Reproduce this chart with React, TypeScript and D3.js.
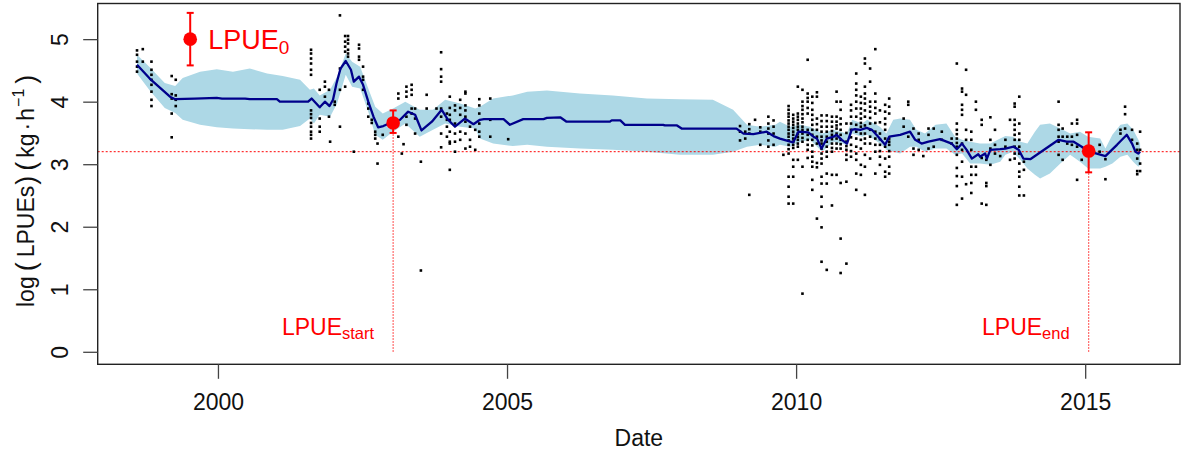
import { useEffect, useRef } from 'react';
import * as d3 from 'd3';

// smoothed fit and its confidence band
const bandYears = [1998.60, 1998.82, 1999.08, 1999.26, 1999.39, 1999.69, 1999.98, 2000.26, 2000.55, 2000.85, 2001.12, 2001.42, 2001.59, 2001.66, 2001.76, 2001.94, 2002.06, 2002.21, 2002.32, 2002.46, 2002.60, 2002.72, 2002.85, 2003.03, 2003.24, 2003.49, 2003.72, 2003.93, 2004.19, 2004.45, 2004.53, 2004.76, 2005.10, 2005.35, 2005.69, 2006.26, 2006.83, 2007.42, 2007.99, 2008.56, 2008.91, 2009.15, 2009.38, 2009.64, 2009.72, 2009.90, 2010.07, 2010.24, 2010.45, 2010.64, 2010.88, 2010.97, 2011.14, 2011.23, 2011.45, 2011.56, 2011.68, 2011.80, 2011.97, 2012.08, 2012.23, 2012.41, 2012.60, 2012.75, 2012.87, 2013.01, 2013.18, 2013.36, 2013.53, 2013.62, 2013.75, 2013.88, 2014.00, 2014.13, 2014.22, 2014.39, 2014.57, 2014.74, 2014.91, 2015.05, 2015.26, 2015.35, 2015.47, 2015.61, 2015.73, 2015.83, 2015.92, 2015.95];
const bandLower = [4.45, 4.18, 3.90, 3.82, 3.71, 3.63, 3.59, 3.57, 3.56, 3.55, 3.55, 3.61, 3.73, 3.65, 3.79, 3.76, 3.97, 4.43, 4.24, 4.21, 3.84, 3.47, 3.39, 3.52, 3.65, 3.44, 3.55, 3.65, 3.60, 3.57, 3.41, 3.33, 3.29, 3.31, 3.28, 3.25, 3.23, 3.20, 3.15, 3.15, 3.20, 3.28, 3.31, 3.28, 3.31, 3.28, 3.36, 3.39, 3.20, 3.36, 3.31, 3.49, 3.44, 3.47, 3.33, 3.23, 3.20, 3.17, 3.28, 3.28, 3.20, 3.25, 3.25, 3.15, 3.17, 3.01, 3.01, 2.99, 3.04, 3.15, 3.20, 3.07, 2.93, 2.83, 2.77, 2.85, 3.01, 3.15, 3.04, 2.93, 2.93, 2.96, 3.01, 3.12, 3.15, 3.04, 2.96, 2.99];
const bandUpper = [4.75, 4.55, 4.30, 4.25, 4.38, 4.48, 4.52, 4.48, 4.53, 4.45, 4.41, 4.35, 4.19, 4.21, 4.10, 4.19, 4.40, 4.77, 4.64, 4.56, 4.21, 3.92, 3.81, 3.89, 4.00, 3.87, 3.87, 4.03, 3.97, 3.89, 3.92, 4.05, 4.10, 4.16, 4.18, 4.13, 4.10, 4.05, 4.04, 4.03, 3.87, 3.63, 3.60, 3.63, 3.68, 3.60, 3.63, 3.60, 3.49, 3.55, 3.49, 3.71, 3.65, 3.71, 3.60, 3.49, 3.71, 3.73, 3.71, 3.55, 3.49, 3.63, 3.65, 3.44, 3.39, 3.36, 3.33, 3.33, 3.41, 3.45, 3.44, 3.36, 3.33, 3.52, 3.63, 3.65, 3.57, 3.49, 3.52, 3.44, 3.41, 3.25, 3.47, 3.63, 3.65, 3.55, 3.39, 3.33];

const fitYears = [1998.60, 1998.82, 1999.17, 1999.26, 1999.60, 1999.98, 2000.07, 2000.47, 2000.55, 2001.02, 2001.07, 2001.56, 2001.62, 2001.76, 2001.85, 2001.93, 2001.99, 2002.05, 2002.12, 2002.21, 2002.30, 2002.35, 2002.44, 2002.51, 2002.60, 2002.69, 2002.77, 2002.86, 2003.03, 2003.15, 2003.29, 2003.41, 2003.52, 2003.70, 2003.87, 2003.98, 2004.10, 2004.27, 2004.42, 2004.53, 2004.60, 2004.94, 2005.05, 2005.28, 2005.63, 2005.69, 2005.92, 2006.03, 2006.78, 2006.81, 2006.96, 2007.04, 2007.70, 2007.73, 2007.94, 2008.02, 2008.97, 2009.09, 2009.26, 2009.49, 2009.61, 2009.72, 2009.90, 2009.95, 2010.04, 2010.21, 2010.30, 2010.36, 2010.44, 2010.53, 2010.65, 2010.70, 2010.79, 2010.88, 2010.96, 2011.02, 2011.11, 2011.22, 2011.31, 2011.42, 2011.54, 2011.61, 2011.80, 2011.97, 2012.06, 2012.17, 2012.29, 2012.49, 2012.69, 2012.78, 2012.87, 2012.95, 2013.04, 2013.15, 2013.18, 2013.27, 2013.30, 2013.36, 2013.53, 2013.62, 2013.76, 2013.85, 2013.93, 2014.05, 2014.54, 2014.68, 2014.80, 2014.94, 2015.06, 2015.20, 2015.35, 2015.55, 2015.72, 2015.81, 2015.87, 2015.92, 2015.95];
const fitValues = [4.59, 4.37, 4.08, 4.04, 4.05, 4.06, 4.05, 4.05, 4.04, 4.04, 4.00, 4.00, 4.05, 3.91, 4.00, 3.93, 4.03, 4.29, 4.53, 4.65, 4.51, 4.32, 4.40, 4.27, 4.00, 3.76, 3.59, 3.61, 3.68, 3.71, 3.84, 3.79, 3.54, 3.68, 3.87, 3.71, 3.60, 3.73, 3.64, 3.71, 3.72, 3.72, 3.63, 3.72, 3.72, 3.74, 3.75, 3.68, 3.68, 3.70, 3.70, 3.63, 3.63, 3.62, 3.62, 3.57, 3.57, 3.49, 3.48, 3.52, 3.45, 3.41, 3.36, 3.35, 3.52, 3.51, 3.44, 3.41, 3.25, 3.41, 3.44, 3.47, 3.39, 3.33, 3.55, 3.56, 3.55, 3.58, 3.55, 3.44, 3.31, 3.44, 3.47, 3.52, 3.39, 3.33, 3.36, 3.40, 3.33, 3.24, 3.33, 3.23, 3.09, 3.16, 3.12, 3.17, 3.09, 3.23, 3.24, 3.25, 3.28, 3.23, 3.09, 3.08, 3.39, 3.36, 3.36, 3.28, 3.20, 3.17, 3.13, 3.31, 3.47, 3.33, 3.20, 3.17, 3.20];

// observed log(LPUE) by trip date (one column per date)
const obsYears = [1998.60, 1998.70, 1998.85, 1999.20, 1999.27, 2001.61, 2001.76, 2001.85, 2001.92, 2001.94, 2002.02, 2002.11, 2002.20, 2002.25, 2002.35, 2002.44, 2002.51, 2002.60, 2002.66, 2002.72, 2002.76, 2002.85, 2003.12, 2003.18, 2003.21, 2003.26, 2003.35, 2003.41, 2003.51, 2003.61, 2003.78, 2003.86, 2003.96, 2004.01, 2004.10, 2004.19, 2004.28, 2004.36, 2004.45, 2004.52, 2004.71, 2005.02, 2009.03, 2009.12, 2009.19, 2009.29, 2009.38, 2009.52, 2009.61, 2009.78, 2009.87, 2009.95, 2010.03, 2010.11, 2010.20, 2010.28, 2010.36, 2010.44, 2010.53, 2010.62, 2010.70, 2010.77, 2010.87, 2010.95, 2011.04, 2011.12, 2011.19, 2011.28, 2011.37, 2011.45, 2011.54, 2011.61, 2011.86, 2011.94, 2012.03, 2012.12, 2012.20, 2012.29, 2012.38, 2012.52, 2012.69, 2012.78, 2012.87, 2012.94, 2013.03, 2013.11, 2013.21, 2013.29, 2013.36, 2013.44, 2013.53, 2013.62, 2013.70, 2013.78, 2013.86, 2013.94, 2014.54, 2014.61, 2014.69, 2014.77, 2014.86, 2014.94, 2015.25, 2015.35, 2015.61, 2015.69, 2015.81, 2015.90, 2015.95];
const obsValues = [
  [4.82, 4.75, 4.64, 4.56, 4.48],
  [4.84, 4.64],
  [4.64, 4.51, 4.43, 4.35, 4.27, 4.16, 4.03, 3.93],
  [4.41, 4.12, 4.05, 3.81, 3.43],
  [4.35, 4.10, 4.03, 3.93],
  [4.83, 4.77, 4.69, 4.61, 4.51, 4.43, 3.86, 3.80, 3.74, 3.66, 3.60, 3.52, 3.47, 3.41],
  [4.19, 3.73, 3.60, 3.52],
  [4.32, 4.24, 4.08],
  [4.19, 3.76],
  [3.36],
  [4.00, 3.95],
  [5.38, 4.53, 4.19, 3.60],
  [5.05, 4.96, 4.88, 4.80, 4.24],
  [5.05, 4.99, 4.93, 4.83, 4.77, 4.72],
  [3.20],
  [4.91, 4.85, 4.72, 4.67],
  [4.56, 4.40, 4.35, 4.19],
  [3.97, 3.89, 3.76],
  [3.71, 3.66],
  [3.52, 3.47, 3.41],
  [3.33, 3.01],
  [3.47],
  [4.13, 4.05, 3.44],
  [3.17],
  [3.32],
  [4.24, 4.16, 4.08, 3.76, 3.63],
  [4.27, 4.19, 4.11, 3.89, 3.81],
  [3.89, 3.73, 3.49],
  [3.04, 1.30],
  [4.11, 3.89],
  [3.89],
  [4.79, 4.52, 4.40, 4.32, 3.89, 3.76, 3.49, 3.27],
  [3.81, 3.71, 3.60, 3.44],
  [4.08, 3.90, 3.79, 3.71, 3.52, 3.36, 3.33, 2.91],
  [3.94, 3.86, 3.65, 3.49, 3.36, 3.20],
  [4.03, 3.90, 3.79, 3.52, 3.39],
  [4.16, 4.13, 3.94, 3.86, 3.76, 3.68, 3.49, 3.25],
  [3.60, 3.39, 3.28],
  [3.55, 3.23],
  [4.04, 3.94, 3.81, 3.65, 3.52, 3.44],
  [4.05, 3.71, 3.44],
  [3.40],
  [3.61, 3.52, 3.38],
  [3.52, 3.41],
  [3.64, 3.56, 3.49, 2.51],
  [3.71],
  [3.59, 3.52, 3.31],
  [3.76, 3.65, 3.57, 3.49, 3.38, 3.28],
  [3.70, 3.60, 3.49, 3.31],
  [3.15],
  [3.93, 3.87, 3.81, 3.76, 3.70, 3.65, 3.60, 3.55, 3.49, 3.44, 3.38, 3.31, 3.24, 3.17, 2.80, 2.64, 2.48, 2.37],
  [3.79, 3.73, 3.68, 3.63, 3.58, 3.52, 3.47, 3.41, 3.36, 3.31, 3.26, 3.07, 2.96, 2.80, 2.37],
  [4.24, 3.81, 3.76, 3.71, 3.65, 3.60, 3.55, 3.49, 3.44, 3.39, 3.33, 3.28, 3.07],
  [4.19, 4.00, 3.93, 3.87, 3.80, 3.73, 3.67, 3.60, 3.55, 3.49, 3.42, 3.36, 2.96, 0.93],
  [4.67, 4.13, 4.06, 4.00, 3.90, 3.81, 3.55, 3.47, 3.39, 3.31, 3.23, 3.10],
  [4.08, 3.98, 3.87, 3.79, 3.71, 3.63, 3.55, 3.47, 3.39, 3.30, 3.20, 3.12, 3.04, 2.96, 2.75, 2.59],
  [4.15, 4.08, 3.73, 3.64, 3.55, 3.44, 3.33, 3.02, 2.95, 2.13],
  [3.78, 3.69, 3.60, 3.52, 3.44, 3.38, 3.33, 3.25, 3.17, 3.09, 3.01, 2.80, 2.69, 2.48, 2.32, 1.99, 1.44],
  [3.78, 3.69, 3.60, 3.52, 3.44, 3.36, 3.28, 3.20, 3.12, 2.85, 2.69, 1.31],
  [3.76, 3.68, 3.60, 3.53, 3.47, 3.40, 3.33, 3.26, 3.20, 2.83, 2.34],
  [4.16, 4.00, 3.76, 3.68, 3.62, 3.57, 3.49, 3.41, 3.33, 3.25, 2.83],
  [4.00, 3.87, 3.73, 3.64, 3.55, 3.47, 3.39, 3.32, 3.25, 2.70, 1.81, 1.26],
  [3.65, 3.50, 3.36, 3.29, 3.23, 3.15, 3.07, 2.72, 1.41],
  [3.95, 3.86, 3.76, 3.65, 3.55, 3.43, 3.31, 3.21, 3.12],
  [4.45, 4.29, 4.19, 4.10, 4.00, 3.89, 3.76, 3.63, 3.52, 3.41, 3.28, 3.17, 3.07, 2.85, 2.59],
  [4.08, 3.98, 3.89, 3.81, 3.73, 3.66, 3.60, 3.49, 3.39, 3.25, 2.99, 2.83],
  [4.69, 4.61, 4.24, 4.13, 4.05, 3.97, 3.86, 3.76, 3.62, 3.49, 3.41, 3.33, 3.15, 2.96, 2.51],
  [4.53, 4.32, 4.00, 3.92, 3.84, 3.74, 3.65, 3.55, 3.44, 3.33, 3.09],
  [4.84, 4.13, 4.00, 3.90, 3.81, 3.66, 3.52, 3.41, 3.31, 3.20, 2.85],
  [3.86, 3.67, 3.49, 3.40, 3.31, 3.21, 3.12, 2.99],
  [3.95, 3.84, 3.73, 3.64, 3.55, 3.41, 3.28, 3.09, 2.88, 2.80],
  [4.05, 3.92, 3.81, 3.41, 3.36, 3.31, 3.21, 3.12, 2.96, 2.85],
  [3.73, 3.60],
  [4.00, 3.95, 3.44],
  [3.57, 3.25, 3.15],
  [3.49, 3.39, 3.23],
  [3.13],
  [3.57, 3.47, 3.25],
  [3.57, 3.28],
  [3.52, 3.39],
  [3.41, 3.33],
  [4.61, 3.65, 3.55, 3.48, 3.41, 3.34, 3.28, 3.15, 2.94, 2.81, 2.65, 2.35],
  [4.21, 4.16, 3.95, 3.87, 3.79, 3.33, 3.23, 3.04, 2.80, 2.45],
  [4.51, 4.11, 3.55, 3.39, 2.68],
  [3.52, 3.39, 3.23, 2.96, 2.83, 2.70, 2.54],
  [4.00, 3.87, 2.96, 2.83],
  [3.71, 3.63, 3.10, 2.37],
  [3.07, 2.70, 2.65, 2.35],
  [3.75, 3.39, 3.25, 2.99],
  [3.55, 3.31, 3.17],
  [3.13],
  [3.39, 3.28],
  [3.71, 3.07],
  [3.97, 3.92, 3.71, 3.63, 3.55, 3.47, 3.39, 3.28, 3.17, 3.09],
  [4.08, 3.65, 3.49, 3.39, 3.28, 3.17, 3.01, 2.88, 2.80, 2.64, 2.50],
  [3.04, 2.91, 2.50],
  [4.00, 3.63, 3.55, 3.44, 3.36, 3.15],
  [3.57, 3.44, 3.07],
  [3.44, 3.33],
  [3.65, 3.44, 3.31],
  [3.71, 3.65, 3.47, 3.28, 2.75],
  [3.07],
  [3.31, 3.20],
  [3.08, 2.76],
  [3.55, 3.49],
  [3.92, 3.80, 3.57],
  [3.55, 3.39],
  [3.33, 3.23, 3.09, 2.89, 2.84],
  [3.52, 3.23, 3.01, 2.89],
];

// reference LPUE estimates with their intervals
const markerNames = ['0', 'start', 'end'];
const markerYears = [1999.52, 2003.03, 2015.06];
const markerValues = [5.0, 3.66, 3.21];
const markerLow = [4.58, 3.50, 2.87];
const markerHigh = [5.42, 3.86, 3.51];
const refLevel = 3.2;

const xTicks = [2000, 2005, 2010, 2015];
const yTicks = [0, 1, 2, 3, 4, 5];

const width = 1184;
const height = 451;
const FONT = 'Liberation Sans, Arial, Helvetica, sans-serif';

const LpueChart = () => {
  const svgRef = useRef<SVGSVGElement>(null);

  useEffect(() => {
    if (!svgRef.current) return;
    const svg = d3.select(svgRef.current);
    svg.selectAll('*').remove();

    const marginLeft = 97.7;
    const marginRight = 1180;
    const marginTop = 3.5;
    const marginBottom = 364.3;

    const x = d3.scaleLinear().domain([1997.92, 2016.64]).range([marginLeft, marginRight]);
    const y = d3.scaleLinear().domain([-0.2, 5.57]).range([marginBottom, marginTop]);

    svg.append('defs').append('clipPath').attr('id', 'plot-clip')
      .append('rect')
      .attr('x', marginLeft).attr('y', marginTop)
      .attr('width', marginRight - marginLeft).attr('height', marginBottom - marginTop);

    const plot = svg.append('g').attr('clip-path', 'url(#plot-clip)');

    // confidence band
    const area = d3.area<number>()
      .x((_, i) => x(bandYears[i]))
      .y0((_, i) => y(bandLower[i]))
      .y1((_, i) => y(bandUpper[i]));
    plot.append('path')
      .datum(bandYears)
      .attr('fill', '#add8e6')
      .attr('d', area);

    // reference level
    plot.append('line')
      .attr('x1', marginLeft).attr('x2', marginRight)
      .attr('y1', y(refLevel)).attr('y2', y(refLevel))
      .attr('stroke', '#ff0000')
      .attr('stroke-width', 1)
      .attr('stroke-dasharray', '2,2');

    // observations
    const pts = obsYears.flatMap((yr, i) => obsValues[i].map(v => [yr, v]));
    plot.append('g')
      .attr('fill', '#000')
      .selectAll('rect')
      .data(pts)
      .join('rect')
        .attr('x', d => x(d[0]) - 1.3)
        .attr('y', d => y(d[1]) - 1.3)
        .attr('width', 2.6)
        .attr('height', 2.6);

    // fitted trend
    const line = d3.line<number>()
      .x((_, i) => x(fitYears[i]))
      .y((_, i) => y(fitValues[i]));
    plot.append('path')
      .datum(fitYears)
      .attr('fill', 'none')
      .attr('stroke', '#00008b')
      .attr('stroke-width', 2.3)
      .attr('stroke-linejoin', 'round')
      .attr('d', line);

    // markers
    const red = '#ff0000';
    markerNames.forEach((name, i) => {
      const cx = x(markerYears[i]);
      const cy = y(markerValues[i]);
      if (name !== '0') {
        svg.append('line')
          .attr('x1', cx).attr('x2', cx)
          .attr('y1', y(0)).attr('y2', cy)
          .attr('stroke', '#ff3b3b')
          .attr('stroke-width', 1.2)
          .attr('stroke-dasharray', '1.5,1.5');
      }
      svg.append('line')
        .attr('x1', cx).attr('x2', cx)
        .attr('y1', y(markerLow[i])).attr('y2', y(markerHigh[i]))
        .attr('stroke', red).attr('stroke-width', 2);
      [markerLow[i], markerHigh[i]].forEach(v => {
        svg.append('line')
          .attr('x1', cx - 3.5).attr('x2', cx + 3.5)
          .attr('y1', y(v)).attr('y2', y(v))
          .attr('stroke', red).attr('stroke-width', 2);
      });
      svg.append('circle')
        .attr('cx', cx).attr('cy', cy).attr('r', 6.8)
        .attr('fill', red);

      if (name === '0') {
        const t = svg.append('text')
          .attr('x', cx + 18).attr('y', cy + 10)
          .attr('fill', red)
          .attr('font-family', FONT)
          .attr('font-size', 27);
        t.append('tspan').text('LPUE');
        t.append('tspan').attr('font-size', 19).attr('dy', 5).text(name);
      } else {
        const t = svg.append('text')
          .attr('x', cx - 19).attr('y', y(0) - 17)
          .attr('text-anchor', 'end')
          .attr('fill', red)
          .attr('font-family', FONT)
          .attr('font-size', 23);
        t.append('tspan').text('LPUE');
        t.append('tspan').attr('font-size', 16.5).attr('dy', 4).text(name);
      }
    });

    // frame
    svg.append('rect')
      .attr('x', marginLeft).attr('y', marginTop)
      .attr('width', marginRight - marginLeft).attr('height', marginBottom - marginTop)
      .attr('fill', 'none')
      .attr('stroke', '#222')
      .attr('stroke-width', 1.4);

    // x axis
    const xAxis = svg.append('g')
      .attr('transform', `translate(0,${marginBottom})`)
      .call(d3.axisBottom(x).tickValues(xTicks).tickFormat(d3.format('d')).tickSize(14.5).tickPadding(15));
    xAxis.select('.domain').remove();
    xAxis.selectAll('line').attr('stroke', '#444').attr('stroke-width', 1.3);
    xAxis.selectAll('text').attr('font-family', FONT).attr('font-size', 23).attr('fill', '#111');

    // y axis, labels parallel to the axis
    const yAxis = svg.append('g')
      .attr('transform', `translate(${marginLeft},0)`)
      .call(d3.axisLeft(y).tickValues(yTicks).tickSize(14.5).tickFormat(d3.format('d')));
    yAxis.select('.domain').remove();
    yAxis.selectAll('line').attr('stroke', '#444').attr('stroke-width', 1.3);
    yAxis.selectAll('text')
      .attr('font-family', FONT).attr('font-size', 23).attr('fill', '#111')
      .attr('x', null).attr('dy', null)
      .attr('text-anchor', 'middle')
      .attr('transform', 'translate(-29.5,0) rotate(-90)');

    // axis titles
    svg.append('text')
      .attr('x', (marginLeft + marginRight) / 2)
      .attr('y', 446)
      .attr('text-anchor', 'middle')
      .attr('font-family', FONT).attr('font-size', 23).attr('fill', '#111')
      .text('Date');

    // plotmath-like title: log( LPUEs ) ( kg . h^-1 ) with tall parentheses
    const yl = svg.append('text')
      .attr('transform', 'translate(34,307) rotate(-90)')
      .attr('text-anchor', 'start')
      .attr('font-family', FONT).attr('font-size', 23).attr('fill', '#111');
    yl.append('tspan').text('log');
    yl.append('tspan').attr('font-size', 27).attr('dx', 5).attr('dy', 1).text('(');
    yl.append('tspan').attr('dx', 5).attr('dy', -1).text('LPUEs');
    yl.append('tspan').attr('font-size', 27).attr('dx', 1).attr('dy', 1).text(')');
    yl.append('tspan').attr('font-size', 27).attr('dx', 5).text('(');
    yl.append('tspan').attr('dx', 4).attr('dy', -1).text('kg');
    yl.append('tspan').attr('dx', 3).text('\u00b7');
    yl.append('tspan').attr('dx', 2).text('h');
    yl.append('tspan').attr('font-size', 16).attr('dx', 1).attr('dy', -10).text('\u22121');
    yl.append('tspan').attr('font-size', 27).attr('dx', 5).attr('dy', 11).text(')');
  }, []);

  return <svg ref={svgRef} width={width} height={height} style={{ position: 'absolute', left: 0, top: 0 }} />;
};

export default function App() {
  return <LpueChart />;
}
